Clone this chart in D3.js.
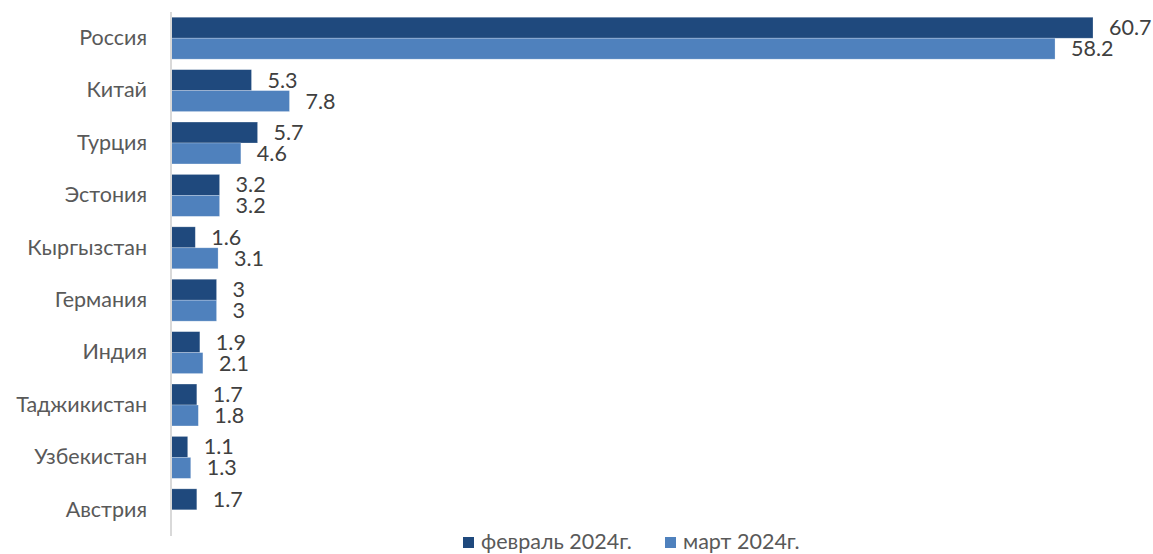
<!DOCTYPE html>
<html>
<head>
<meta charset="utf-8">
<script src="https://cdn.jsdelivr.net/npm/d3@7"></script>
<style>
  html, body { margin: 0; padding: 0; background: #fff; }
  svg { display: block; }
</style>
</head>
<body>
<svg id="chart" width="1153" height="554"></svg>
<script>
// Countries and shares (%), two months
const categories = ["Россия", "Китай", "Турция", "Эстония", "Кыргызстан", "Германия", "Индия", "Таджикистан", "Узбекистан", "Австрия"];
const february = [60.7, 5.3, 5.7, 3.2, 1.6, 3, 1.9, 1.7, 1.1, 1.7];
const march = [58.2, 7.8, 4.6, 3.2, 3.1, 3, 2.1, 1.8, 1.3, null];
const seriesNames = ["февраль 2024г.", "март 2024г."];
const colors = ["#1f497d", "#4f81bd"];

const svg = d3.select("#chart");
const font = "Lato, 'Open Sans', sans-serif";
const fontSize = 21.5;

const x = d3.scaleLinear().domain([0, 60.7]).range([171, 1093]);
const y = d3.scaleBand().domain(categories).range([12, 536]).paddingInner(0.2).paddingOuter(0.1);
const sub = d3.scaleBand().domain([0, 1]).range([0, y.bandwidth()]);

const series = [february, march];

series.forEach((vals, si) => {
  const g = svg.append("g");
  const rows = categories.map((c, i) => ({ c, v: vals[i] })).filter(d => d.v != null);
  g.selectAll("rect").data(rows).enter().append("rect")
    .attr("x", x(0))
    .attr("y", d => y(d.c) + sub(si))
    .attr("width", d => x(d.v) - x(0))
    .attr("height", sub.bandwidth())
    .attr("fill", colors[si])
    .attr("stroke", "rgba(255,255,255,0.35)")
    .attr("stroke-width", 0.7);
  g.selectAll("text").data(rows).enter().append("text")
    .attr("x", d => x(d.v) + 16)
    .attr("y", d => y(d.c) + sub(si) + sub.bandwidth() / 2)
    .attr("dy", "0.35em")
    .attr("font-family", font)
    .attr("font-size", fontSize)
    .attr("fill", "#404040")
    .text(d => d.v);
});

// vertical category axis
const axis = svg.append("g").attr("transform", `translate(${x(0)},0)`)
  .call(d3.axisLeft(y).tickSize(0).tickPadding(24));
axis.select(".domain").attr("stroke", "#d9d9d9").attr("stroke-width", 2)
  .attr("d", `M0,${y.range()[0]}V${y.range()[1]}`);
axis.selectAll("text")
  .attr("font-family", font)
  .attr("font-size", fontSize)
  .attr("fill", "#595959");

// legend
const legend = svg.append("g").attr("transform", "translate(0,541)");
const legendX = [463, 665];
seriesNames.forEach((name, i) => {
  legend.append("rect").attr("x", legendX[i]).attr("y", -4).attr("width", 11).attr("height", 11).attr("fill", colors[i]);
  legend.append("text").attr("x", legendX[i] + 18).attr("y", 0).attr("dy", "0.35em")
    .attr("font-family", font).attr("font-size", fontSize).attr("fill", "#595959").text(name);
});
</script>
</body>
</html>
